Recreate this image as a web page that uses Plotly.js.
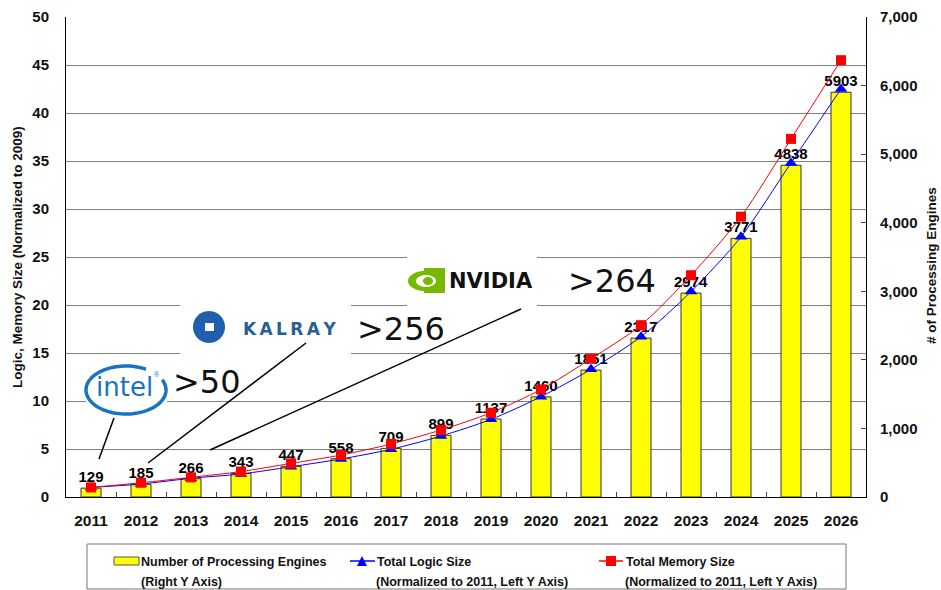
<!DOCTYPE html>
<html><head><meta charset="utf-8">
<script src="https://cdn.plot.ly/plotly-3.0.1.min.js"></script>
<style>html,body{margin:0;padding:0;background:#fff}#chart{width:941px;height:590px}</style>
</head><body><div id="chart"></div>
<script>
// ---- data ----
const years = ['2011','2012','2013','2014','2015','2016','2017','2018','2019','2020','2021','2022','2023','2024','2025','2026'];
const engines = [129,185,266,343,447,558,709,899,1137,1460,1851,2317,2974,3771,4838,5903];
const logicSize = [1.0,1.35,1.95,2.4,3.15,3.96,4.97,6.35,8.09,10.45,13.3,16.7,21.4,27.1,34.8,42.5];
const memorySize = [1.0,1.48,2.05,2.65,3.5,4.37,5.52,6.98,8.78,11.2,14.4,17.9,23.1,29.2,37.3,45.5];
const leftTitle = 'Logic, Memory Size (Normalized to 2009)';
const rightTitle = '# of Processing Engines';
const legendNames = ['Number of Processing Engines','Total Logic Size','Total Memory Size'];
const legendSubs = ['(Right Y Axis)','(Normalized to 2011, Left Y Axis)','(Normalized to 2011, Left Y Axis)'];
const vendorCounts = ['>50','>256','>264'];

// ---- geometry helpers (pixel -> paper) ----
const L=66,R=866,T=17,B=497;
const px = x => (x-L)/(R-L);
const py = y => (B-y)/(B-T);
const sans = 'Liberation Sans, Arial, sans-serif';
const dejavu = 'DejaVu Sans, Verdana, sans-serif';

function rect(x0,y0,x1,y1,fill,lc,lw){
  return {type:'rect',xref:'paper',yref:'paper',x0:px(x0),x1:px(x1),y0:py(y1),y1:py(y0),
    fillcolor:fill,line:{color:lc||fill,width:lw===undefined?0:lw}};
}
function seg(x0,y0,x1,y1,c,w){
  return {type:'line',xref:'paper',yref:'paper',x0:px(x0),y0:py(y0),x1:px(x1),y1:py(y1),line:{color:c,width:w}};
}
function ellipsePath(cx,cy,rx,ry,a0,a1,n,close){
  let d='';
  for(let i=0;i<=n;i++){
    const a=(a0+(a1-a0)*i/n)*Math.PI/180;
    d+=(i?'L':'M')+px(cx+rx*Math.cos(a)).toFixed(5)+','+py(cy+ry*Math.sin(a)).toFixed(5);
  }
  return d+(close?'Z':'');
}
function pathShape(d,fill,lc,lw){
  return {type:'path',xref:'paper',yref:'paper',path:d,fillcolor:fill||'rgba(0,0,0,0)',line:{color:lc||'rgba(0,0,0,0)',width:lw||0}};
}
function ann(x,y,text,font,opts){
  return Object.assign({xref:'paper',yref:'paper',x:px(x),y:py(y),text:text,showarrow:false,font:font,xanchor:'center',yanchor:'middle'},opts||{});
}

// ---- traces ----
const bars = {type:'bar',x:years,y:engines,yaxis:'y',width:0.4,
  marker:{color:'#ffff00',line:{color:'#333333',width:1}},
  text:engines.map(String),textposition:'outside',cliponaxis:false,constraintext:'none',
  textfont:{family:sans,size:15,color:'#000',weight:'bold'},hoverinfo:'skip',showlegend:false};
const logic = {type:'scatter',mode:'lines+markers',x:years,y:logicSize,yaxis:'y2',
  line:{color:'#0000ff',width:1,shape:'spline',smoothing:0.8},
  marker:{symbol:'triangle-up',size:11,color:'#0000ff'},showlegend:false,hoverinfo:'skip'};
const memory = {type:'scatter',mode:'lines+markers',x:years,y:memorySize,yaxis:'y2',
  line:{color:'#ff0000',width:1,shape:'spline',smoothing:0.8},
  marker:{symbol:'square',size:10,color:'#ff0000'},showlegend:false,hoverinfo:'skip'};

// ---- decorations ----
const shapes = [
  rect(86,362,167,418,'#ffffff'),
  rect(180,298,351,358,'#ffffff'),
  rect(407,250,537,312,'#ffffff'),
  pathShape(ellipsePath(126,390,40,24,-25,300,80,false),null,'#1a73c2',3.5),
  pathShape(ellipsePath(209,327,16,16,0,360,48,true),'#1f5fae','#1f5fae',0),
  rect(205,323,214,331,'#ffffff'),
  rect(424,268,445,293,'#76b900'),
  pathShape(ellipsePath(425,281,17,10,0,360,48,true),'#76b900','#76b900',0),
  pathShape(ellipsePath(426,281,10,6,0,360,40,true),'#ffffff','#ffffff',0),
  pathShape(ellipsePath(428,281,5,4,0,360,30,true),'#76b900','#76b900',0),
  seg(114,418,99,459,'#000',1.5),
  seg(306,343,148,463,'#000',1.5),
  seg(521,309,210,450,'#000',1.5),
  rect(87,544,846,589,'rgba(0,0,0,0)','#777777',1),
  rect(114,557,139,565,'#ffff00','#555555',1),
  seg(350,561,375,561,'#0000ff',1.5),
  pathShape('M'+px(357)+','+py(566)+'L'+px(367)+','+py(566)+'L'+px(362)+','+py(556)+'Z','#0000ff','#0000ff',0),
  seg(599,561,623,561,'#ff0000',1.5),
  rect(606,556,616,566,'#ff0000')
];

const lf = {family:sans,size:12.5,color:'#111',weight:'bold'};
const annotations = [
  ann(17,257,leftTitle,{family:sans,size:13.5,color:'#111',weight:'bold'},{textangle:-90}),
  ann(931,266,rightTitle,{family:sans,size:13.5,color:'#111',weight:'bold'},{textangle:-90}),
  ann(124,387,'intel',{family:dejavu,size:26,color:'#1a73c2'}),
  ann(157,374,'®',{family:sans,size:7,color:'#1a73c2'}),
  ann(289,329,'K\u2009A\u2009L\u2009R\u2009A\u2009Y',{family:dejavu,size:17,color:'#2b5f93',weight:'bold'}),
  ann(491,281,'NVIDIA',{family:dejavu,size:21,color:'#111',weight:'bold'}),
  ann(207,382,vendorCounts[0],{family:dejavu,size:32,color:'#111'}),
  ann(401,329,vendorCounts[1],{family:dejavu,size:32,color:'#111'}),
  ann(612,281,vendorCounts[2],{family:dejavu,size:32,color:'#111'}),
  ann(139,562,legendNames[0],lf,{xanchor:'left'}),
  ann(139,582,legendSubs[0],lf,{xanchor:'left'}),
  ann(375,562,legendNames[1],lf,{xanchor:'left'}),
  ann(374,582,legendSubs[1],lf,{xanchor:'left'}),
  ann(624,562,legendNames[2],lf,{xanchor:'left'}),
  ann(623,582,legendSubs[2],lf,{xanchor:'left'})
];

const tickBold = {family:sans,size:15,color:'#111',weight:'bold'};
const layout = {
  width:941,height:590,margin:{l:L,r:941-R,t:T,b:590-B},
  paper_bgcolor:'#fff',plot_bgcolor:'#fff',showlegend:false,hovermode:false,
  xaxis:{type:'category',range:[-0.5,15.5],showline:true,linecolor:'#000',linewidth:1,
    ticks:'inside',tickson:'boundaries',ticklen:5,tickcolor:'#444',showgrid:false,zeroline:false,
    tickfont:{family:sans,size:15.5,color:'#111',weight:'bold'},ticklabelstandoff:9},
  yaxis:{side:'right',range:[0,7000],dtick:1000,tickformat:',',showline:true,linecolor:'#000',linewidth:1,
    ticks:'inside',ticklen:5,tickcolor:'#444',showgrid:false,zeroline:false,tickfont:tickBold,ticklabelstandoff:10},
  yaxis2:{overlaying:'y',side:'left',range:[0,50],dtick:5,showline:true,linecolor:'#000',linewidth:1,
    showgrid:true,gridcolor:'#808080',gridwidth:1,zeroline:false,ticks:'',tickfont:tickBold,ticklabelstandoff:13},
  shapes:shapes,annotations:annotations
};
Plotly.newPlot('chart',[bars,logic,memory],layout,{staticPlot:true,displayModeBar:false});
</script></body></html>
